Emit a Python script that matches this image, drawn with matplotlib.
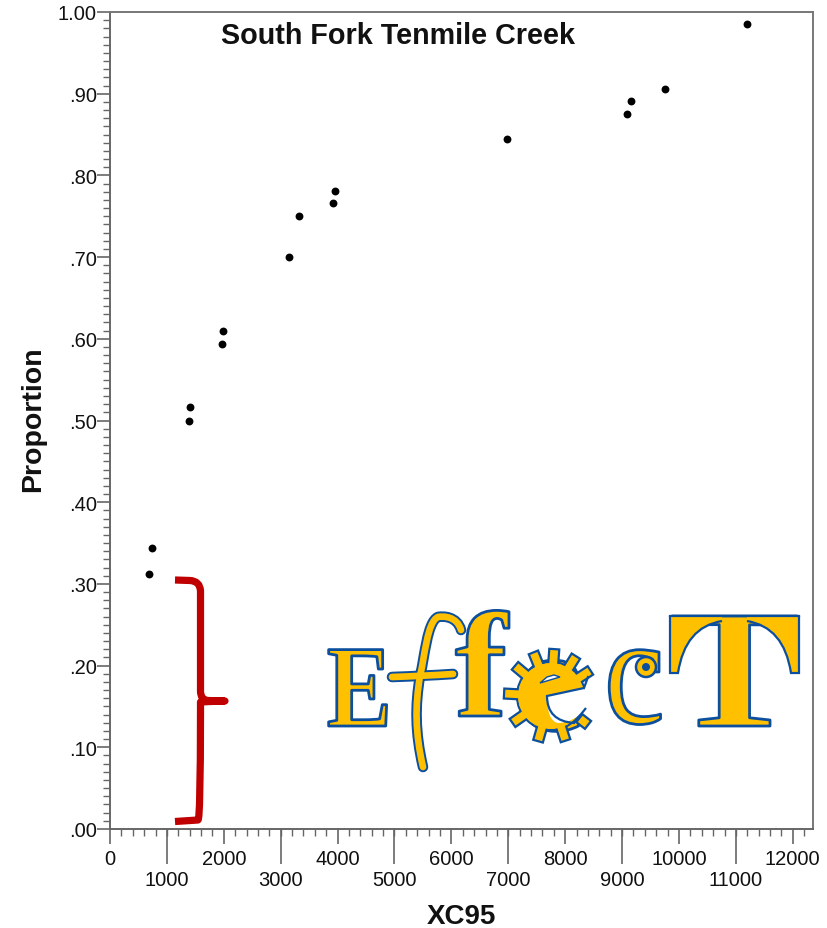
#!/usr/bin/env python3
"""South Fork Tenmile Creek: proportion vs XC95, with the EffecT logo on top"""

import numpy as np
import matplotlib
matplotlib.use('Agg')
import matplotlib.pyplot as plt
from matplotlib.patches import PathPatch, Polygon, Circle
from matplotlib.path import Path
from matplotlib.patheffects import AbstractPathEffect
from matplotlib.ticker import MultipleLocator
from matplotlib.transforms import Affine2D

plt.rcParams['font.family'] = ['Liberation Sans', 'DejaVu Sans']

xc95 = [685, 738, 1388, 1406, 1968, 1986, 3146, 3322, 3919, 3954,
        6977, 9086, 9156, 9754, 11195]
proportion = [.312, .344, .500, .516, .594, .610, .700, .750, .766, .781,
              .844, .875, .891, .906, .985]

x_ticks_upper = [0, 2000, 4000, 6000, 8000, 10000, 12000]
x_ticks_lower = [1000, 3000, 5000, 7000, 9000, 11000]
y_ticks = [0, .1, .2, .3, .4, .5, .6, .7, .8, .9, 1.0]
y_labels = ['.00', '.10', '.20', '.30', '.40', '.50', '.60', '.70', '.80', '.90', '1.00']

W, H = 828, 929
LOGO_FILL = '#FFC000'
LOGO_EDGE = '#0B4F9E'
GREY = '#666666'


class SquashedOutline(AbstractPathEffect):
    """Draw a glyph with an outline, stretched in x about its left edge"""

    def __init__(self, sx, x0, lw=2.0):
        super().__init__()
        self.sx, self.x0, self.lw = sx, x0, lw

    def draw_path(self, renderer, gc, tpath, affine, rgbFace=None):
        stretch = Affine2D().translate(-self.x0, 0).scale(self.sx, 1).translate(self.x0, 0)
        gc0 = renderer.new_gc()
        gc0.copy_properties(gc)
        gc0.set_linewidth(self.lw)
        gc0.set_foreground(LOGO_EDGE)
        renderer.draw_path(gc0, tpath, affine + stretch, rgbFace)
        gc0.restore()


def logo_letter(ov, s, x, y, size, sx=1.0, weight='bold', zorder=5):
    ov.text(x, y, s, fontsize=size, family='Liberation Serif', fontweight=weight,
            color=LOGO_FILL, ha='left', va='baseline', zorder=zorder,
            path_effects=[SquashedOutline(sx, x)])


def draw_brace(ov):
    codes = [Path.MOVETO, Path.LINETO, Path.CURVE3, Path.CURVE3, Path.LINETO,
             Path.CURVE3, Path.CURVE3, Path.LINETO, Path.CURVE3, Path.CURVE3,
             Path.LINETO, Path.CURVE3, Path.CURVE3, Path.LINETO]
    verts = [(175, 581), (190, 581.5), (200, 582), (200.5, 592), (200.5, 692),
             (200.5, 701), (208, 701.5), (225, 702), (208, 702.5), (200.5, 703),
             (200.5, 713), (200.5, 820), (198, 821), (175, 822.5)]
    ov.add_patch(PathPatch(Path(verts, codes), fill=False, ec='#C00000', lw=5.2,
                           capstyle='butt', joinstyle='round', zorder=4))


def draw_hand_f(ov):
    # the first f of the logo is a wobbly hand-drawn stroke, no font has it
    stem = Path([(461, 631), (457, 617), (443, 617), (438, 618), (427, 623), (425, 657),
                 (420, 677), (415, 707), (415, 733), (423, 768)],
                [Path.MOVETO] + [Path.CURVE4] * 9)
    bar = Path([(392, 678), (423, 677), (453, 675)], [Path.MOVETO, Path.CURVE3, Path.CURVE3])
    for color, lw, z in [(LOGO_EDGE, 7.6, 4), (LOGO_FILL, 4.8, 4.1)]:
        for p in (stem, bar):
            ov.add_patch(PathPatch(p, fill=False, ec=color, lw=lw, capstyle='round', zorder=z))


def gear_tooth(ov, cx, cy, ang, r0, r1, z):
    a = np.deg2rad(ang)
    ux, uy = np.cos(a), -np.sin(a)
    vx, vy = -uy, ux
    pts = [(cx + ux * rr + vx * w, cy + uy * rr + vy * w)
           for rr, w in [(r0, 5), (r1, 5), (r1, -5), (r0, -5)]]
    ov.add_patch(Polygon(pts, closed=True, fc=LOGO_FILL, ec=LOGO_EDGE, lw=1.6, zorder=z))


def draw_gear_e(ov, cx, cy):
    r = 34
    logo_letter(ov, 'e', 518, 731, 107, zorder=3.9)
    ov.add_patch(Circle((cx, cy), r, fc=LOGO_FILL, ec=LOGO_EDGE, lw=1.6, zorder=4))
    for ang in [112, 86, 58, 33, 140, 177, -145, -106, -72]:
        gear_tooth(ov, cx, cy, ang, 30, 47, 4.1)
    ov.add_patch(Circle((cx, cy), r - 1, fc=LOGO_FILL, ec='none', zorder=4.2))

    # mouth of the e, open to the right, and a sliver of an eye
    mouth = Path([(547, 697), (584, 689), (600, 686), (600, 706), (586, 709),
                  (574, 724), (558, 724), (547, 722), (547, 697), (547, 697)],
                 [Path.MOVETO, Path.LINETO, Path.LINETO, Path.LINETO, Path.LINETO,
                  Path.CURVE3, Path.CURVE3, Path.CURVE3, Path.CURVE3, Path.CLOSEPOLY])
    ov.add_patch(PathPatch(mouth, fc='white', ec='none', zorder=4.3))
    lip = Path([(584, 689), (547, 697), (547, 722), (574, 724), (586, 709)],
               [Path.MOVETO, Path.LINETO, Path.CURVE3, Path.CURVE3, Path.LINETO])
    ov.add_patch(PathPatch(lip, fill=False, ec=LOGO_EDGE, lw=1.6, zorder=4.4))
    ov.plot([584, 588], [689, 678], color=LOGO_EDGE, lw=1.6, zorder=4.4)
    # the tooth on the hook of the e sits over the mouth's lower edge
    gear_tooth(ov, cx, cy, -38, 36, 47, 4.5)
    ov.add_patch(Polygon([(540, 684), (547, 678), (554, 676), (560, 678), (550, 681)], closed=True,
                         fc='white', ec=LOGO_EDGE, lw=1.0, zorder=4.4))


def draw_t_flares(ov):
    # the T of the logo has long hanging serifs that the font's T lacks
    for side in (1, -1):
        mx = lambda x: 734.5 + side * (x - 734.5)
        fill = Path([(mx(670), 617), (mx(670), 674), (mx(678), 674), (mx(685), 628),
                     (mx(722), 622), (mx(722), 617), (mx(670), 617)],
                    [Path.MOVETO, Path.LINETO, Path.LINETO, Path.CURVE3, Path.CURVE3,
                     Path.LINETO, Path.CLOSEPOLY])
        ov.add_patch(PathPatch(fill, fc=LOGO_FILL, ec='none', zorder=7))
        edge = Path([(mx(670), 617), (mx(670), 674), (mx(678), 674), (mx(685), 628), (mx(722), 622)],
                    [Path.MOVETO, Path.LINETO, Path.LINETO, Path.CURVE3, Path.CURVE3])
        ov.add_patch(PathPatch(edge, fill=False, ec=LOGO_EDGE, lw=1.6, zorder=7.1))
    ov.plot([670, 799], [616.5, 616.5], color=LOGO_EDGE, lw=1.6, zorder=7.1)


def main():
    fig = plt.figure(figsize=(W / 100, H / 100), dpi=100)
    ax = fig.add_axes([110 / W, 1 - 830 / H, (813 - 110) / W, (830 - 13) / H])

    ax.scatter(xc95, proportion, s=32, color='black', linewidths=0, zorder=3, clip_on=False)

    ax.set_xlim(0, 703 / 56.9 * 1000)
    ax.set_ylim(0, 1)

    for side in ax.spines.values():
        side.set_color('#777777')
        side.set_linewidth(1.4)
    ax.spines['left'].set_color(GREY)
    ax.spines['bottom'].set_color(GREY)

    ax.set_xticks(x_ticks_upper)
    ax.set_yticks(y_ticks)
    ax.set_yticklabels(y_labels)
    ax.xaxis.set_minor_locator(MultipleLocator(200))
    ax.yaxis.set_minor_locator(MultipleLocator(.01))

    ax.tick_params(axis='x', which='major', labelsize=14.5, labelcolor='#111111', color=GREY,
                   width=1.2, length=10.8, pad=3.5)
    ax.tick_params(axis='y', which='major', labelsize=14.5, labelcolor='#111111', color=GREY,
                   width=1.2, length=9.5, pad=0)
    ax.tick_params(which='minor', length=4.8, width=1.0, color=GREY)

    # every other x label sits on a lower row with a longer tick
    lower = ax.secondary_xaxis('bottom')
    lower.set_xticks(x_ticks_lower)
    lower.tick_params(axis='x', labelsize=14.5, labelcolor='#111111', color=GREY, width=1.2,
                      length=25.2, pad=4.5)
    lower.spines['bottom'].set_visible(False)

    # overlay in image pixels for title, axis names and the logo
    ov = fig.add_axes([0, 0, 1, 1], facecolor='none')
    ov.set_xlim(0, W)
    ov.set_ylim(H, 0)
    ov.axis('off')

    ov.text(398, 36, 'South Fork Tenmile Creek', fontsize=20.7, fontweight='bold',
            ha='center', va='center', color='#111111')
    ov.text(461, 917, 'XC95', fontsize=20, fontweight='bold', ha='center', va='center',
            color='#111111')
    ov.text(33, 419, 'Proportion', fontsize=20.5, fontweight='bold', rotation=90,
            ha='center', va='center', color='#111111')

    draw_brace(ov)

    logo_letter(ov, 'E', 327, 727, 84, sx=.83)
    draw_hand_f(ov)
    logo_letter(ov, 'f', 455, 717, 108, sx=1.05)
    draw_gear_e(ov, 551, 697)
    logo_letter(ov, 'c', 604, 724, 112, sx=.88, weight='normal')
    ov.add_patch(Circle((646, 668), 10, fc=LOGO_FILL, ec=LOGO_EDGE, lw=1.8, zorder=7))
    ov.add_patch(Circle((646, 668), 4, fc=LOGO_EDGE, ec='none', zorder=7))
    logo_letter(ov, 'T', 669, 727, 121, sx=1.17)
    draw_t_flares(ov)

    fig.savefig('out.png', dpi=100)


if __name__ == "__main__":
    main()
